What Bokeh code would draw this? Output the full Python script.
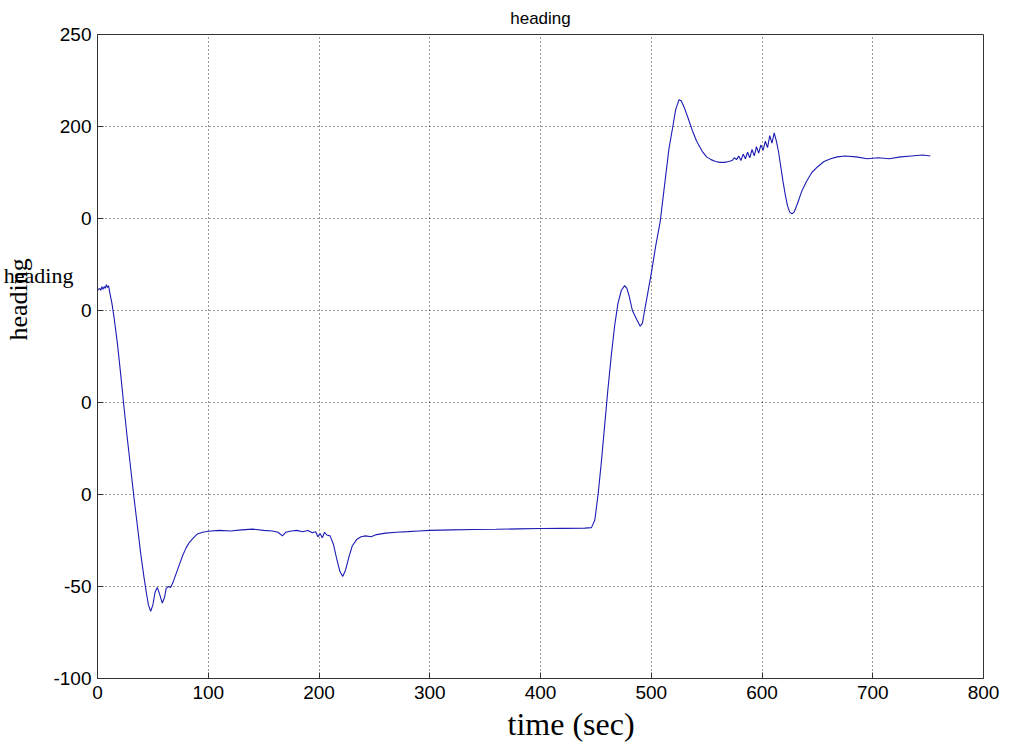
from bokeh.plotting import figure
from bokeh.models import FixedTicker, Range1d, Title, LinearAxis
from bokeh.embed import file_html
from bokeh.resources import INLINE

# ---- data ----
time_sec = [0, 2, 3, 4, 5, 6, 7, 8, 9, 10, 11, 13, 15, 18, 21, 24, 27, 30, 33, 36,
            39, 42, 44, 46, 48, 50, 52, 54, 56, 58.5, 60.5, 62, 64, 66, 68, 71, 74, 77,
            80, 83, 86, 90, 95, 100, 110, 120, 130, 140, 150, 158, 163, 167, 170, 175,
            180, 185, 190, 194, 197, 199, 201, 203, 205, 207, 210, 213, 216, 219, 221.5,
            224, 227, 230, 234, 238, 242, 247, 252, 260, 270, 280, 290, 300, 320, 340,
            360, 380, 400, 420, 440, 446, 449, 452, 455, 458, 461, 464, 467, 470, 473,
            476, 478, 480, 483, 487, 490, 492, 494, 497, 500, 504, 508, 512, 516, 519.5,
            522, 525, 527, 530, 533, 537, 541, 546, 550, 554, 558, 562, 566, 570, 573,
            575, 577, 579, 581, 583, 585, 587, 589, 591, 593, 595, 597, 599, 601, 603,
            605, 607, 609, 611, 613, 615, 617, 619, 621, 623, 625, 627, 629, 632, 636,
            640, 645, 650, 656, 662, 668, 675, 685, 695, 705, 715, 725, 735, 745, 752]
heading = [111, 112, 111, 113, 111.5, 113, 112, 114, 112.5, 113.5, 110, 104, 96, 82, 65,
           47, 30, 14, -2, -17, -32, -45, -53, -60, -63.5, -60, -53, -50.5, -54, -59,
           -56, -51, -50, -50.5, -48, -43, -38, -33, -29, -26, -24, -21.5, -20.5, -20,
           -19.5, -19.8, -19.2, -18.8, -19.5, -19.8, -20.5, -22.5, -20.5, -19.8, -19.5,
           -20.2, -19.6, -20.8, -20.2, -23, -21.2, -23.5, -20.5, -22, -22.5, -27, -35,
           -42, -44.5, -41, -34, -28, -24.5, -23, -22.5, -23, -21.8, -21, -20.5, -20.2,
           -19.8, -19.5, -19.2, -19, -18.9, -18.7, -18.5, -18.4, -18.3, -18, -14, 0, 18,
           38, 58, 76, 92, 104, 111, 113.5, 112, 108, 100, 95, 91.5, 93, 100, 110, 120,
           135, 148, 168, 188, 200, 209, 214.5, 214, 210, 205, 198, 192, 186.5, 183.5,
           182, 181, 180.5, 180.5, 181, 181.5, 183, 182, 184, 181.5, 185, 182.5, 186,
           183, 187.5, 184, 189, 185.5, 190, 187, 192, 188.5, 195, 191, 196.5, 192, 186,
           178, 170, 163, 157, 153.5, 152.5, 153.5, 158, 165, 170, 175, 178, 181, 182.5,
           183.5, 184, 183.5, 182.5, 183, 182.5, 183.5, 184, 184.5, 184]

x_ticks = [0, 100, 200, 300, 400, 500, 600, 700, 800]
y_ticks = [-100, -50, 0, 50, 100, 150, 200, 250]
y_tick_labels = ["-100", "-50", "0", "0", "0", "0", "200", "250"]

title_text = "heading"
x_label = "time (sec)"
y_label = "heading"
y_label_at = 119   # where the horizontal copy of the y label sits

SANS = "Liberation Sans"
SERIF = "Liberation Serif"

p = figure(width=1003, height=751, output_backend="svg", toolbar_location=None,
           x_range=Range1d(0, 800), y_range=Range1d(-100, 250),
           min_border_left=96, min_border_right=20, min_border_top=33,
           min_border_bottom=73, title=title_text)

p.title.align = "center"
p.title.text_font = SANS
p.title.text_font_style = "normal"
p.title.text_font_size = "17px"
p.title.text_color = "black"
p.title.standoff = 13

p.line(time_sec, heading, line_color="#1c1cb4", line_width=1.1)

p.outline_line_color = "#333333"
p.outline_line_width = 1
p.background_fill_color = "white"
p.border_fill_color = "white"

for ax in (p.xaxis[0], p.yaxis[0]):
    ax.axis_line_color = "#333333"
    ax.major_tick_in = 6
    ax.major_tick_out = 0
    ax.major_tick_line_color = "#333333"
    ax.minor_tick_line_color = None
    ax.major_label_text_font = SANS
    ax.major_label_text_font_size = "19px"
    ax.major_label_text_color = "black"

p.xaxis[0].ticker = FixedTicker(ticks=x_ticks)
p.xaxis[0].major_label_standoff = 7
p.yaxis[0].ticker = FixedTicker(ticks=y_ticks)
p.yaxis[0].major_label_overrides = {t: s for t, s in zip(y_ticks, y_tick_labels)}
p.yaxis[0].major_label_standoff = 6

for g in (p.xgrid[0], p.ygrid[0]):
    g.grid_line_color = "black"
    g.grid_line_dash = "1 3"
    g.grid_line_width = 1
    g.grid_line_alpha = 0.8

# y label: a horizontal copy (as a tick label) ...
lab_ax = LinearAxis(ticker=FixedTicker(ticks=[y_label_at]),
                    major_label_overrides={y_label_at: y_label},
                    major_label_text_font=SERIF, major_label_text_font_size="22px",
                    major_label_text_color="black", major_label_standoff=-23,
                    major_tick_in=0, major_tick_out=0, major_tick_line_color=None,
                    minor_tick_line_color=None, axis_line_color=None)
p.add_layout(lab_ax, "left")
# ... and the rotated one
p.add_layout(Title(text=y_label, align="left", offset=338, text_font=SERIF,
                   text_font_size="26px", text_font_style="normal",
                   text_color="black", standoff=-65), "left")

# x label, shifted right as in the reference
p.add_layout(Title(text=x_label, align="left", offset=410, text_font=SERIF,
                   text_font_size="32px", text_font_style="normal",
                   text_color="black", standoff=4), "below")

open("out.html", "w").write(file_html(p, INLINE))
